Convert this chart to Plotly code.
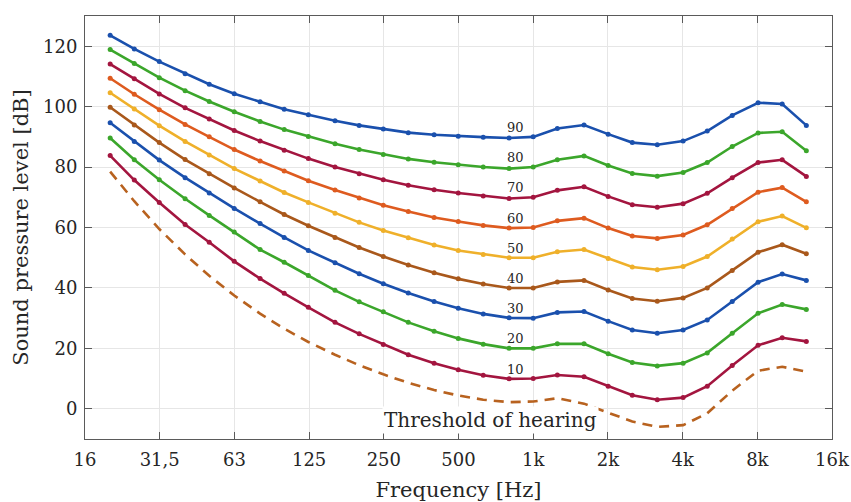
import math
import plotly.graph_objects as go

# One-third-octave centre frequencies (Hz)
freqs = [20, 25, 31.5, 40, 50, 63, 80, 100, 125, 160, 200, 250, 315, 400, 500,
         630, 800, 1000, 1250, 1600, 2000, 2500, 3150, 4000, 5000, 6300, 8000,
         10000, 12500]

# Equal-loudness contours, sound pressure level in dB for each phon level
phon_90 = [123.6, 119.1, 114.9, 110.9, 107.4, 104.3, 101.6, 99.1, 97.3, 95.3, 93.8, 92.6, 91.4, 90.7, 90.2,
           89.9, 89.6, 90.0, 92.8, 93.9, 90.9, 88.1, 87.4, 88.6, 91.9, 97.1, 101.3, 100.9, 93.8]
phon_80 = [118.9, 114.3, 109.6, 105.3, 101.7, 98.3, 95.1, 92.4, 90.1, 87.7, 85.8, 84.2, 82.7, 81.6, 80.8,
           80.0, 79.5, 80.0, 82.4, 83.7, 80.5, 77.9, 77.0, 78.2, 81.5, 86.8, 91.3, 91.7, 85.4]
phon_70 = [114.1, 109.2, 104.2, 99.6, 95.9, 92.1, 88.6, 85.6, 82.8, 80.0, 77.8, 75.8, 74.0, 72.5, 71.4,
           70.4, 69.6, 70.0, 72.3, 73.5, 70.3, 67.5, 66.7, 67.9, 71.3, 76.5, 81.5, 82.4, 76.9]
phon_60 = [109.4, 104.1, 99.0, 94.1, 90.0, 85.8, 82.0, 78.7, 75.5, 72.4, 69.8, 67.4, 65.3, 63.3, 62.0,
           60.7, 59.8, 60.0, 62.2, 63.1, 59.8, 57.2, 56.4, 57.5, 60.9, 66.3, 71.7, 73.2, 68.5]
phon_50 = [104.6, 99.2, 93.7, 88.5, 84.0, 79.5, 75.4, 71.6, 68.3, 64.7, 61.7, 59.0, 56.6, 54.2, 52.4,
           51.1, 50.0, 50.0, 52.0, 52.7, 49.7, 46.9, 46.0, 47.1, 50.4, 56.2, 61.9, 63.8, 59.9]
phon_40 = [99.8, 93.9, 88.1, 82.5, 77.8, 73.1, 68.5, 64.3, 60.6, 56.7, 53.4, 50.4, 47.6, 45.0, 43.0,
           41.3, 40.0, 40.0, 42.0, 42.5, 39.3, 36.5, 35.6, 36.7, 40.0, 45.8, 51.8, 54.3, 51.3]
phon_30 = [94.7, 88.5, 82.3, 76.5, 71.4, 66.3, 61.3, 56.7, 52.4, 48.3, 44.7, 41.4, 38.3, 35.5, 33.3,
           31.4, 30.1, 30.0, 31.9, 32.2, 29.0, 26.1, 25.0, 26.1, 29.4, 35.5, 41.9, 44.6, 42.5]
phon_20 = [89.6, 82.4, 75.8, 69.5, 64.0, 58.5, 52.7, 48.5, 44.1, 39.2, 35.4, 32.1, 28.6, 25.7, 23.3,
           21.4, 20.0, 20.0, 21.5, 21.5, 18.2, 15.3, 14.2, 15.1, 18.5, 25.0, 31.6, 34.5, 32.9]
phon_10 = [83.8, 75.7, 68.3, 61.0, 55.1, 48.8, 43.1, 38.2, 33.6, 28.6, 24.8, 21.3, 17.9, 15.1, 12.9,
           11.1, 9.9, 10.0, 11.2, 10.6, 7.5, 4.5, 3.0, 3.7, 7.5, 14.3, 21.0, 23.5, 22.3]
threshold = [78.5, 68.7, 59.5, 51.1, 44.0, 37.5, 31.5, 26.5, 22.1, 17.9, 14.4, 11.4, 8.6, 6.2, 4.4,
             3.0, 2.2, 2.4, 3.5, 1.7, -1.3, -4.2, -6.0, -5.4, -1.5, 6.0, 12.6, 13.9, 12.3]

phon_levels = [90, 80, 70, 60, 50, 40, 30, 20, 10]
contours = [phon_90, phon_80, phon_70, phon_60, phon_50, phon_40, phon_30, phon_20, phon_10]

# Octave tick labels (comma decimal separator)
x_tick_labels = ["16", "31,5", "63", "125", "250", "500", "1k", "2k", "4k", "8k", "16k"]
y_ticks = [0, 20, 40, 60, 80, 100, 120]

palette = ["#1a50ad", "#3ba62b", "#a3153f", "#de5b1f", "#efb02a", "#a9581b"]
threshold_color = "#b8621f"
FONT = "DejaVu Serif"
TEXT = "#262626"

fig = go.Figure()

for i, (level, values) in enumerate(zip(phon_levels, contours)):
    color = palette[i % len(palette)]
    fig.add_trace(go.Scatter(
        x=freqs, y=values, mode="lines+markers", name=f"{level} phon",
        line=dict(color=color, width=2.6),
        marker=dict(color=color, size=5),
        showlegend=False,
    ))
    fig.add_annotation(
        x=math.log10(850), y=level + 3.1, text=str(level), showarrow=False,
        font=dict(family=FONT, size=13, color=TEXT),
    )

fig.add_trace(go.Scatter(
    x=freqs, y=threshold, mode="lines", name="Threshold of hearing",
    line=dict(color=threshold_color, width=2.6, dash="10px,7px"),
    showlegend=False,
))
fig.add_annotation(
    x=math.log10(676), y=-3.7, text="Threshold of hearing", showarrow=False,
    bgcolor="white", font=dict(family=FONT, size=20, color=TEXT),
)

# Octave tick positions on the preferred-number series 10^(1.2 + 0.3 k)
x_tick_vals = [10 ** (1.2 + 0.3 * k) for k in range(len(x_tick_labels))]

axis_common = dict(
    showline=True, linecolor="#5a5a5a", linewidth=1, mirror="ticks",
    ticks="inside", ticklen=7, tickcolor="#5a5a5a",
    showgrid=True, gridcolor="#e6e6e6", gridwidth=1, zeroline=False,
    automargin=False,
    tickfont=dict(family=FONT, size=18, color=TEXT),
    title_font=dict(family=FONT, size=21, color=TEXT),
)

fig.update_xaxes(
    type="log", range=[1.2, 4.2], tickvals=x_tick_vals, ticktext=x_tick_labels,
    ticklabelstandoff=4,
    title_text="Frequency [Hz]", title_standoff=14, **axis_common,
)
fig.update_yaxes(
    range=[-10, 130], tickvals=y_ticks, title_text="Sound pressure level [dB]",
    ticklabelstandoff=3,
    title_standoff=8, **axis_common,
)

fig.update_layout(
    width=851, height=502,
    margin=dict(l=85, r=19, t=16, b=63),
    paper_bgcolor="white", plot_bgcolor="white",
    font=dict(family=FONT, color=TEXT),
)

fig.write_html("out.html")
